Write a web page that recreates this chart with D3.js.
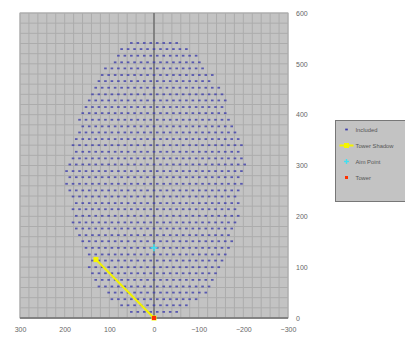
<!DOCTYPE html>
<html><head><meta charset="utf-8">
<script src="https://cdn.jsdelivr.net/npm/d3@7"></script>
<style>html,body{margin:0;padding:0;background:#fff;overflow:hidden}</style>
</head><body><svg id="c" width="405" height="341"></svg>
<script>
// ---- data ----
const xTicks = [300, 200, 100, 0, -100, -200, -300];
const yTicks = [0, 100, 200, 300, 400, 500, 600];
// heliostat rows (hexagonal field): row height, left extent (positive x), right extent (negative x)
const rowY     = [12,25,37,50,62,75,88,100,113,125,138,151,163,176,188,201,214,226,239,251,264,277,289,302,314,327,340,352,365,377,390,403,415,428,440,453,466,478,491,503,516,529,541];
const rowLeft  = [51,74,94,111,122,129,137,142,148,152,160,165,174,178,181,181,183,185,189,190,193,193,194,190,190,182,180,175,178,168,165,161,156,156,144,141,131,118,109,98,88,71,50];
const rowRight = [56,83,97,116,127,135,142,153,157,161,168,176,178,183,185,188,189,190,191,192,193,197,198,200,198,194,193,188,185,178,176,165,163,158,150,150,134,133,120,106,100,77,53];
const colSpacing = 14.5;
const towerShadow = [[0, 0], [130, 115]];
const aimPoint = [0, 138];
const tower = [0, 0];
const legendLabels = ["Included", "Tower Shadow", "Aim Point", "Tower"];

// ---- build points ----
const included = [];
rowY.forEach((y, k) => {
  const off = (k % 2 === 0) ? colSpacing / 2 : 0;
  for (let m = -20; m <= 20; m++) {
    const x = off + m * colSpacing;
    if (x <= rowLeft[k] + 3 && x >= -rowRight[k] - 3) included.push([x, y]);
  }
});

const svg = d3.select("#c");
const L = 20, R = 288, T = 13, B = 318;
const x = d3.scaleLinear().domain([300, -300]).range([L, R]);
const y = d3.scaleLinear().domain([0, 600]).range([B, T]);

// plot background
svg.append("rect").attr("x", L).attr("y", T).attr("width", R - L).attr("height", B - T)
  .attr("fill", "#c3c3c3").attr("stroke", "#b0b0b0");

// grid every 20 units
const gx = d3.range(-300, 301, 20), gy = d3.range(0, 601, 20);
svg.append("g").selectAll("line").data(gx).join("line")
  .attr("x1", d => x(d)).attr("x2", d => x(d)).attr("y1", T).attr("y2", B)
  .attr("stroke", "#acacac").attr("stroke-width", 1);
svg.append("g").selectAll("line").data(gy).join("line")
  .attr("y1", d => y(d)).attr("y2", d => y(d)).attr("x1", L).attr("x2", R)
  .attr("stroke", "#acacac").attr("stroke-width", 1);

// axis lines
svg.append("line").attr("x1", x(0)).attr("x2", x(0)).attr("y1", T).attr("y2", B)
  .attr("stroke", "#707070").attr("stroke-width", 1.5);
svg.append("line").attr("x1", L).attr("x2", R).attr("y1", B).attr("y2", B)
  .attr("stroke", "#707070").attr("stroke-width", 1.5);

// axes labels via d3 axes
const xAxis = d3.axisBottom(x).tickValues(xTicks).tickSize(0).tickPadding(9);
const gX = svg.append("g").attr("transform", `translate(0,${B})`).call(xAxis);
gX.select(".domain").remove();
gX.selectAll("text").attr("fill", "#666").style("font-family", "Arial, 'Liberation Sans', sans-serif").style("font-size", "7px");

const yAxis = d3.axisRight(y).tickValues(yTicks).tickSize(0).tickPadding(8);
const gY = svg.append("g").attr("transform", `translate(${R},0)`).call(yAxis);
gY.select(".domain").remove();
gY.selectAll("text").attr("fill", "#666").style("font-family", "Arial, 'Liberation Sans', sans-serif").style("font-size", "7px");

// included heliostats
svg.append("g").selectAll("rect").data(included).join("rect")
  .attr("x", d => x(d[0]) - 1.3).attr("y", d => y(d[1]) - 0.9)
  .attr("width", 2.6).attr("height", 1.8)
  .attr("fill", "#3d3dab").attr("opacity", 0.8);

// tower shadow
const line = d3.line().x(d => x(d[0])).y(d => y(d[1]));
svg.append("path").datum(towerShadow).attr("d", line)
  .attr("stroke", "#f2f200").attr("stroke-width", 2).attr("fill", "none");
svg.append("g").selectAll("rect").data(towerShadow).join("rect")
  .attr("x", d => x(d[0]) - 2.5).attr("y", d => y(d[1]) - 2.5).attr("width", 5).attr("height", 5)
  .attr("fill", "#f5f500");

// aim point (cyan star)
const ap = svg.append("g").attr("transform", `translate(${x(aimPoint[0])},${y(aimPoint[1])})`)
  .attr("stroke", "#40e0f0").attr("stroke-width", 1.6);
ap.append("line").attr("x1", -3.5).attr("x2", 3.5);
ap.append("line").attr("y1", -3.5).attr("y2", 3.5);

// tower
svg.append("rect").attr("x", x(tower[0]) - 2).attr("y", y(tower[1]) - 2).attr("width", 4).attr("height", 4)
  .attr("fill", "#ff3000");

// legend
const lg = svg.append("g").attr("transform", "translate(335.5,120.5)");
lg.append("rect").attr("width", 80).attr("height", 81).attr("fill", "#c3c3c3").attr("stroke", "#777").attr("stroke-width", 1);
const ly = d => 9 + d * 16;
legendLabels.forEach((t, i) => {
  lg.append("text").attr("x", 20).attr("y", ly(i) + 2.2).text(t)
    .attr("fill", "#555").style("font-family", "Arial, 'Liberation Sans', sans-serif").style("font-size", "5.8px");
});
lg.append("rect").attr("x", 9.7).attr("y", ly(0) - 0.9).attr("width", 2.6).attr("height", 1.8).attr("fill", "#3d3dab");
lg.append("line").attr("x1", 4).attr("x2", 18).attr("y1", ly(1)).attr("y2", ly(1)).attr("stroke", "#f2f200").attr("stroke-width", 2);
lg.append("rect").attr("x", 8.5).attr("y", ly(1) - 2.5).attr("width", 5).attr("height", 5).attr("fill", "#f5f500");
const la = lg.append("g").attr("transform", `translate(11,${ly(2)})`).attr("stroke", "#40e0f0").attr("stroke-width", 1.4);
la.append("line").attr("x1", -2.5).attr("x2", 2.5);
la.append("line").attr("y1", -2.5).attr("y2", 2.5);
lg.append("rect").attr("x", 9.5).attr("y", ly(3) - 1.5).attr("width", 3).attr("height", 3).attr("fill", "#ff3000");
</script></body></html>
